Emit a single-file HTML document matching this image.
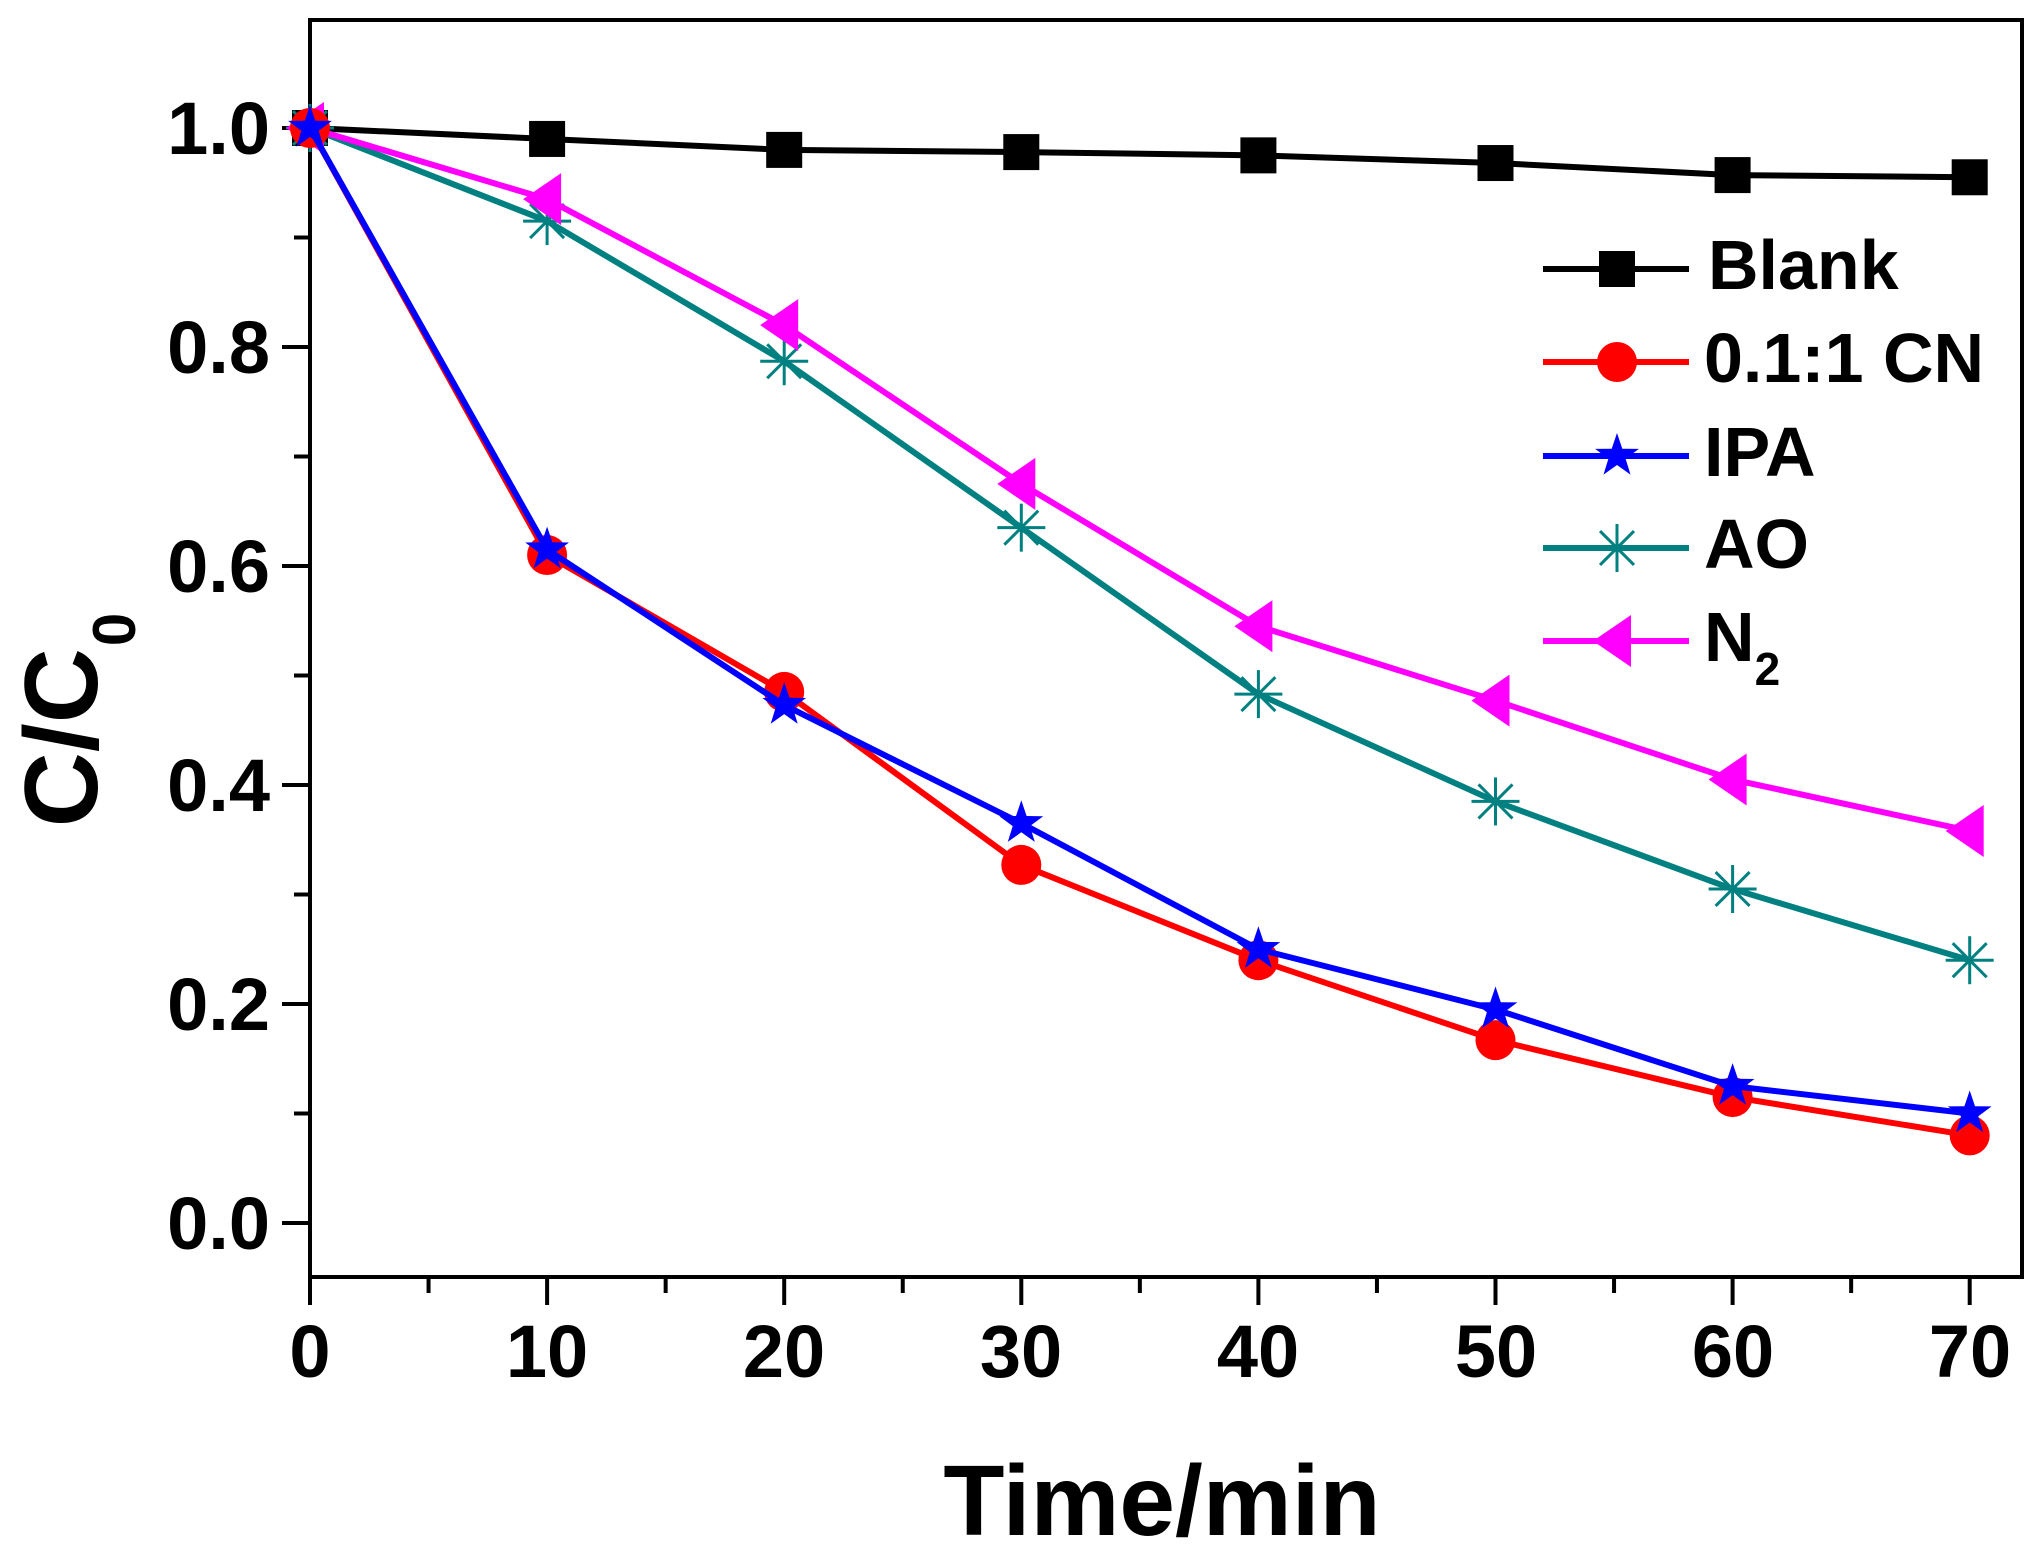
<!DOCTYPE html>
<html><head><meta charset="utf-8"><style>
html,body{margin:0;padding:0;background:#fff;}
svg{display:block;}
text{font-family:"Liberation Sans",Arial,sans-serif;font-weight:bold;fill:#000;}
</style></head><body>
<svg id="s" width="2040" height="1554" viewBox="0 0 2040 1554" xmlns="http://www.w3.org/2000/svg">
<rect x="0" y="0" width="2040" height="1554" fill="#fff"/>
<rect x="310" y="20" width="1712" height="1257" fill="none" stroke="#000" stroke-width="4"/>
<g id="ticks" stroke="#000" stroke-width="4"></g>
<g font-size="74" text-anchor="end">
<text x="270" y="1249">0.0</text>
<text x="270" y="1030">0.2</text>
<text x="270" y="811">0.4</text>
<text x="270" y="592">0.6</text>
<text x="270" y="373">0.8</text>
<text x="270" y="154">1.0</text>
</g>
<g font-size="74" text-anchor="middle">
<text x="310" y="1377">0</text>
<text x="547" y="1377">10</text>
<text x="784" y="1377">20</text>
<text x="1021" y="1377">30</text>
<text x="1258" y="1377">40</text>
<text x="1496" y="1377">50</text>
<text x="1733" y="1377">60</text>
<text x="1970" y="1377">70</text>
</g>
<text x="1162" y="1535" font-size="100" text-anchor="middle">Time/min</text>
<text transform="translate(97,720) rotate(-90)" font-size="104" text-anchor="middle">C/C<tspan font-size="60" dy="38" dx="2">0</tspan></text>
<g id="series"></g>
<g id="legend"></g>
<g font-size="70">
<text x="1708" y="289">Blank</text>
<text x="1704" y="382">0.1:1 CN</text>
<text x="1704" y="476">IPA</text>
<text x="1704" y="568">AO</text>
<text x="1704" y="661">N<tspan font-size="46" dy="24">2</tspan></text>
</g>
</svg>
<script>
var NS="http://www.w3.org/2000/svg";
function X(t){return 310+t*23.71;}
function Y(v){return 1223-v*1095;}
function el(p,n,a){var e=document.createElementNS(NS,n);for(var k in a)e.setAttribute(k,a[k]);p.appendChild(e);return e;}
var tk=document.getElementById('ticks');
for(var t=0;t<=70;t+=5){var L=(t%10==0)?28:16;el(tk,'line',{x1:X(t),x2:X(t),y1:1277,y2:1277+L});}
for(var i=0;i<=10;i++){var v=i/10;var L=(i%2==0)?28:16;el(tk,'line',{x1:310,x2:310-L,y1:Y(v),y2:Y(v)});}
var T=[0,10,20,30,40,50,60,70];
var S=[
{c:'#000',m:'sq',d:[1.0,0.99,0.98,0.978,0.975,0.968,0.957,0.955]},
{c:'#008080',m:'ast',d:[1.0,0.915,0.787,0.635,0.483,0.385,0.305,0.24]},
{c:'#ff00ff',m:'tri',d:[1.0,0.935,0.82,0.675,0.545,0.477,0.405,0.358]},
{c:'#ff0000',m:'ci',d:[1.0,0.61,0.485,0.327,0.24,0.167,0.115,0.08]},
{c:'#0000ff',m:'st',d:[1.0,0.615,0.473,0.365,0.25,0.195,0.125,0.1]}
];
function marker(g,m,x,y,c){
 if(m=='sq')el(g,'rect',{x:x-18,y:y-18,width:36,height:36,fill:c});
 else if(m=='ci')el(g,'circle',{cx:x,cy:y,r:20,fill:c});
 else if(m=='tri')el(g,'polygon',{points:(x-24)+','+y+' '+(x+14)+','+(y-26)+' '+(x+14)+','+(y+26),fill:c});
 else if(m=='st'){var p=[];for(var k=0;k<10;k++){var r=k%2?9:23;var a=-Math.PI/2+k*Math.PI/5;p.push((x+r*Math.cos(a)).toFixed(1)+','+(y+r*Math.sin(a)).toFixed(1));}el(g,'polygon',{points:p.join(' '),fill:c});}
 else if(m=='ast'){for(var k=0;k<4;k++){var a=k*Math.PI/4;el(g,'line',{x1:x-24*Math.cos(a),y1:y-24*Math.sin(a),x2:x+24*Math.cos(a),y2:y+24*Math.sin(a),stroke:c,'stroke-width':3});}}
}
var sg=document.getElementById('series');
S.forEach(function(s){
 var pts=s.d.map(function(v,i){return X(T[i])+','+Y(v);}).join(' ');
 el(sg,'polyline',{points:pts,fill:'none',stroke:s.c,'stroke-width':6,'stroke-linejoin':'round'});
 s.d.forEach(function(v,i){marker(sg,s.m,X(T[i]),Y(v),s.c);});
});
var lg=document.getElementById('legend');
var LS=[['#000','sq',269],['#ff0000','ci',362],['#0000ff','st',456],['#008080','ast',548],['#ff00ff','tri',641]];
LS.forEach(function(l){el(lg,'line',{x1:1543,x2:1689,y1:l[2],y2:l[2],stroke:l[0],'stroke-width':6});marker(lg,l[1],1617,l[2],l[0]);});
</script>
</body></html>
